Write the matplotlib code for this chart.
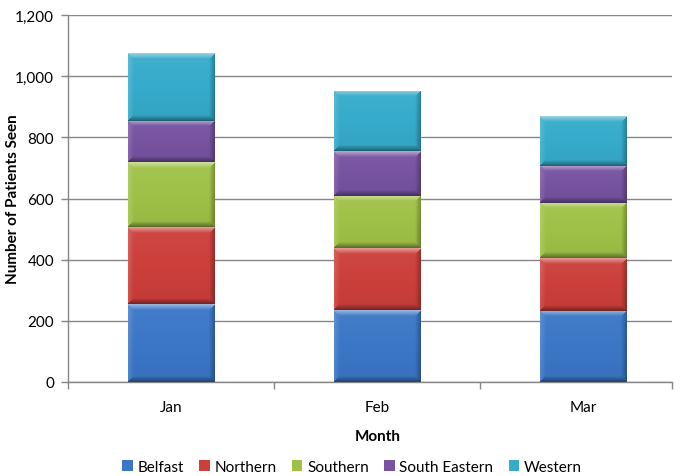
import numpy as np
import matplotlib
matplotlib.use('Agg')
import matplotlib.pyplot as plt
from matplotlib.colors import to_rgb

months = ['Jan', 'Feb', 'Mar']
belfast = [255, 235, 233]
northern = [251, 202, 172]
southern = [212, 172, 180]
south_eastern = [137, 145, 122]
western = [221, 199, 162]

series = [('Belfast', belfast, '#3b77c6'),
          ('Northern', northern, '#cc3f3b'),
          ('Southern', southern, '#9fc147'),
          ('South Eastern', south_eastern, '#7753a1'),
          ('Western', western, '#36abcb')]

plt.rcParams['font.family'] = ['Lato', 'DejaVu Sans']
fs = 11
grey = '#868686'

fig = plt.figure(figsize=(6.86, 4.77), dpi=100)
ax = fig.add_axes([68/686, 1 - 383/477, 604/686, 367/477])

xlo, xhi = -0.5, 2.43
ylo, yhi = 0, 1200
# pixel size of one data unit, used for the bevel width
px_x = 604 / (xhi - xlo)
px_y = 367 / (yhi - ylo)


def bevel_image(w_px, h_px, color, b=6.0):
    nx = max(int(round(w_px)), 4)
    ny = max(int(round(h_px)), 4)
    u = np.arange(nx) + 0.5
    v = np.arange(ny) + 0.5
    U, V = np.meshgrid(u, v)
    dt, db = V, ny - V
    dl, dr = U, nx - U
    d = np.stack([dt, db, dl, dr])
    edge = np.argmin(d, axis=0)
    dmin = np.min(d, axis=0)
    k = np.clip(1 - dmin / b, 0, 1)
    # light from the top left, shade on bottom right
    amount = np.choose(edge, [0.45, -0.40, 0.15, -0.30]) * k
    amount = amount - 0.10 * V / ny + 0.05
    base = np.array(to_rgb(color))
    img = np.empty((ny, nx, 3))
    for i in range(3):
        c = base[i]
        img[:, :, i] = np.where(amount > 0, c + (1 - c) * amount, c * (1 + amount))
    return np.clip(img, 0, 1)


x = np.arange(len(months))
width = 0.42
bottom = np.zeros(len(months))
for name, vals, col in series:
    bars = ax.bar(x, vals, width, bottom=bottom, color=col, edgecolor='none',
                  label=name, zorder=2)
    for p in bars.patches:
        x0, y0 = p.get_x(), p.get_y()
        w, h = p.get_width(), p.get_height()
        img = bevel_image(w * px_x, h * px_y, col)
        im = ax.imshow(img, extent=(x0, x0 + w, y0, y0 + h), origin='upper',
                       aspect='auto', interpolation='bilinear', zorder=3)
        im.set_clip_path(p)
    bottom += np.array(vals)

ax.set_xlim(xlo, xhi)
ax.set_ylim(ylo, yhi)
ax.set_yticks(np.arange(0, 1201, 200))
ax.set_yticklabels(['{:,}'.format(t) for t in range(0, 1201, 200)])
ax.yaxis.grid(True, color=grey, lw=1)
ax.set_axisbelow(True)

ax.set_xticks(x)
ax.set_xticklabels(months)
ax.set_xticks([-0.5, 0.5, 1.5, xhi], minor=True)
ax.tick_params(axis='x', which='major', length=0, pad=13, labelsize=fs)
ax.tick_params(axis='x', which='minor', length=5, color=grey, width=1)
ax.tick_params(axis='y', length=5, color=grey, width=1, labelsize=fs, pad=5)

for s in ['top', 'right']:
    ax.spines[s].set_visible(False)
for s in ['left', 'bottom']:
    ax.spines[s].set_color(grey)
    ax.spines[s].set_linewidth(1)

ax.set_xlabel('Month', fontsize=fs, fontweight='bold', va='center')
ax.xaxis.set_label_coords(0.513, (383 - 437) / 367)
ax.set_ylabel('Number of Patients Seen', fontsize=fs, fontweight='bold', va='center')
ax.yaxis.set_label_coords((13 - 68) / 604, (383 - 199) / 367)

fig.legend(loc='center', bbox_to_anchor=(352/686, 1 - 468/477), ncol=5,
           frameon=False, fontsize=fs, handlelength=0.7, handleheight=0.7,
           handletextpad=0.3, columnspacing=1.0)

plt.savefig('out.png', dpi=100)
plt.close()
